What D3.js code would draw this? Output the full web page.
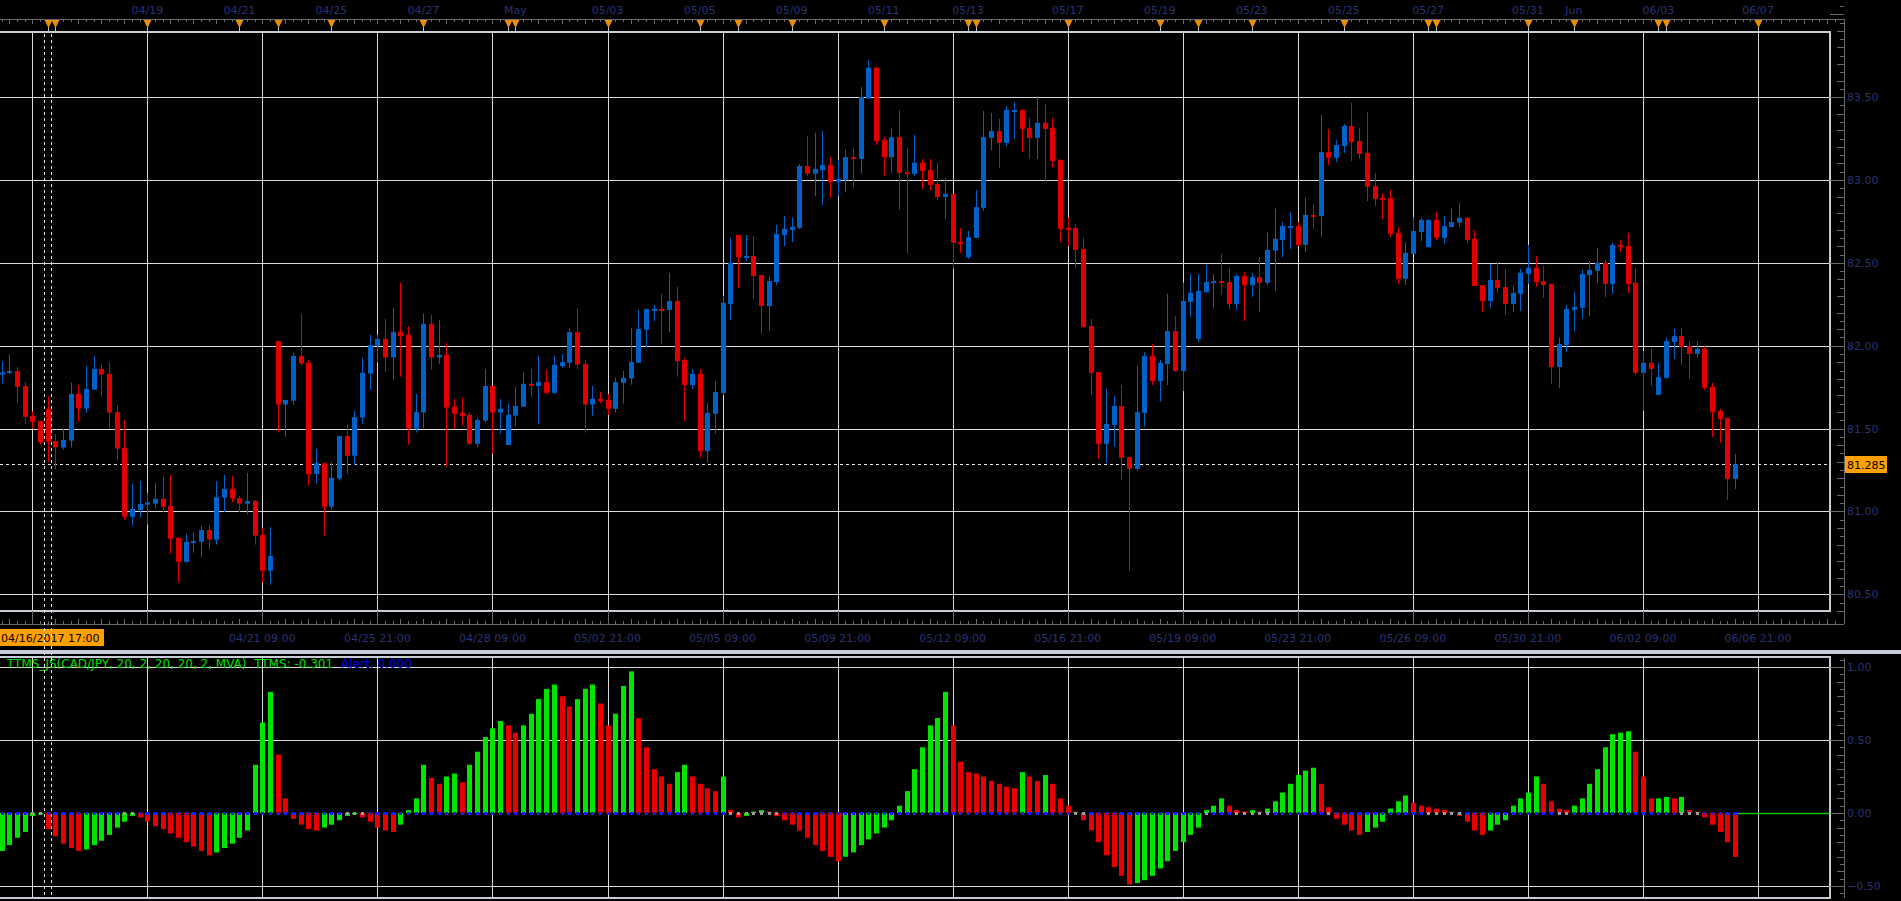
<!DOCTYPE html>
<html>
<head>
<meta charset="utf-8">
<script src="https://cdn.jsdelivr.net/npm/d3@7"></script>
<style>
html, body { margin: 0; padding: 0; background: #000; overflow: hidden; }
</style>
</head>
<body>
<script>
// CAD/JPY 4 hour candles, 04/16/2017 17:00 .. 06/06/2017
const opens = [81.830,81.836,81.847,81.757,81.576,81.545,81.619,81.425,81.386,81.427,
81.709,81.621,81.735,81.860,81.830,81.599,81.384,80.968,81.009,81.041,
81.047,81.076,81.032,80.841,80.696,80.813,80.817,80.888,80.830,81.084,
81.136,81.080,81.047,81.063,80.858,80.642,82.028,81.645,81.668,81.938,
81.897,81.226,81.291,81.028,81.198,81.455,81.336,81.567,81.832,82.000,
82.041,81.929,82.082,82.065,81.500,81.597,82.132,81.929,81.944,81.632,
81.595,81.582,81.408,81.548,81.757,81.597,81.401,81.578,81.632,81.770,
81.757,81.780,81.716,81.877,81.897,82.082,81.890,81.645,81.679,81.673,
81.619,81.776,81.802,81.897,82.097,82.216,82.222,82.216,82.270,81.914,
81.763,81.830,81.364,81.589,81.714,82.252,82.668,82.534,82.541,82.427,
82.239,82.384,82.668,82.698,82.711,83.084,83.037,83.060,83.090,82.989,
83.002,83.138,83.127,83.491,83.677,83.242,83.138,83.259,83.047,83.037,
83.104,83.060,82.976,82.897,82.916,82.625,82.534,82.651,82.832,83.254,
83.295,83.224,83.416,83.422,83.315,83.254,83.345,83.315,83.121,82.711,
82.711,82.584,82.119,81.841,81.408,81.522,81.636,81.328,81.257,81.595,
81.938,81.787,81.890,82.088,81.847,82.265,82.041,82.323,82.379,82.390,
82.384,82.252,82.420,82.366,82.414,82.379,82.573,82.638,82.716,82.722,
82.608,82.789,82.782,83.168,83.134,83.205,83.326,83.235,83.164,82.963,
82.892,82.892,82.681,82.403,82.554,82.686,82.595,82.759,82.651,82.716,
82.742,82.772,82.645,82.366,82.270,82.397,82.354,82.252,82.313,82.433,
82.470,82.390,82.373,81.871,82.004,82.216,82.229,82.427,82.451,82.500,
82.373,82.608,82.601,82.380,81.836,81.897,81.703,81.806,82.022,82.058,
81.998,81.951,81.981,81.752,81.606,81.565,81.196];

const highs = [81.905,81.948,81.871,81.780,81.604,81.545,81.696,81.468,81.500,81.776,
81.763,81.877,81.940,81.890,81.901,81.642,81.552,81.166,81.183,81.112,
81.173,81.216,81.222,80.841,80.864,80.875,80.912,80.918,81.183,81.220,
81.214,81.093,81.233,81.069,80.899,80.905,82.028,81.673,81.959,82.192,
81.914,81.377,81.291,81.297,81.455,81.528,81.606,81.927,82.065,82.065,
82.162,82.229,82.380,82.119,81.709,82.192,82.186,82.155,82.017,81.679,
81.686,81.597,81.567,81.860,81.757,81.679,81.651,81.752,81.841,81.860,
81.940,81.856,81.940,81.951,82.101,82.229,81.912,81.757,81.720,81.709,
81.806,81.847,82.108,82.216,82.222,82.246,82.313,82.440,82.354,81.927,
81.860,81.860,81.655,81.787,82.300,82.651,82.668,82.668,82.662,82.427,
82.420,82.729,82.782,82.772,83.097,83.265,83.285,83.295,83.140,83.121,
83.181,83.194,83.560,83.724,83.683,83.259,83.308,83.422,83.194,83.272,
83.127,83.127,83.104,83.013,82.916,82.709,82.692,82.940,83.416,83.405,
83.369,83.446,83.470,83.429,83.375,83.507,83.459,83.375,83.127,82.776,
82.735,82.651,82.162,81.841,81.739,81.696,81.763,81.328,81.877,81.961,
82.011,81.914,82.313,82.179,82.380,82.433,82.433,82.487,82.433,82.554,
82.470,82.433,82.444,82.440,82.535,82.681,82.826,82.746,82.806,82.746,
82.892,82.856,83.392,83.308,83.241,83.338,83.466,83.315,83.410,83.043,
82.922,82.940,82.716,82.625,82.776,82.772,82.765,82.806,82.782,82.826,
82.862,82.776,82.698,82.366,82.494,82.500,82.464,82.360,82.464,82.608,
82.541,82.481,82.373,82.048,82.246,82.323,82.457,82.511,82.590,82.517,
82.621,82.638,82.681,82.470,81.968,81.981,81.897,82.048,82.101,82.108,
82.028,82.028,81.998,81.776,81.619,81.565,81.347];

const lows = [81.772,81.830,81.657,81.528,81.500,81.405,81.297,81.252,81.373,81.386,
81.541,81.595,81.735,81.692,81.502,81.310,80.946,80.914,80.963,80.920,
81.017,80.996,80.746,80.571,80.690,80.752,80.724,80.770,80.800,80.996,
81.054,80.996,80.983,80.800,80.571,80.558,81.476,81.451,81.645,81.880,
81.155,81.168,80.854,81.011,81.186,81.226,81.280,81.528,81.733,81.899,
81.841,81.793,81.813,81.403,81.476,81.502,81.856,81.892,81.270,81.498,
81.517,81.401,81.390,81.537,81.349,81.470,81.401,81.515,81.632,81.690,
81.524,81.705,81.711,81.867,81.867,81.860,81.476,81.578,81.651,81.582,
81.597,81.651,81.765,81.897,81.991,82.149,82.007,82.082,81.813,81.545,
81.739,81.323,81.297,81.468,81.703,82.155,82.349,82.511,82.282,82.071,
82.088,82.366,82.601,82.625,82.705,83.024,82.903,82.849,82.892,82.903,
82.927,82.955,83.037,83.491,83.211,83.024,83.043,82.819,82.554,83.024,
82.946,82.940,82.879,82.765,82.464,82.560,82.524,82.651,82.813,83.181,
83.073,83.205,83.248,83.168,83.127,83.127,82.994,83.073,82.625,82.601,
82.470,82.108,81.703,81.317,81.293,81.390,81.192,80.642,81.246,81.511,
81.763,81.662,81.763,81.841,81.726,82.172,82.022,82.319,82.229,82.306,
82.222,82.216,82.149,82.293,82.203,82.366,82.330,82.535,82.584,82.601,
82.565,82.705,82.655,83.091,83.108,83.164,83.114,83.127,82.873,82.843,
82.765,82.655,82.373,82.366,82.554,82.632,82.595,82.638,82.614,82.716,
82.716,82.621,82.360,82.203,82.229,82.319,82.186,82.203,82.209,82.373,
82.354,82.289,81.770,81.746,81.961,82.088,82.162,82.179,82.380,82.293,
82.313,82.565,82.319,81.823,81.606,81.757,81.703,81.800,81.920,81.884,
81.800,81.927,81.733,81.448,81.414,81.069,81.136];

const closes = [81.838,81.847,81.752,81.571,81.541,81.416,81.420,81.386,81.431,81.709,
81.621,81.739,81.860,81.826,81.597,81.379,80.968,81.015,81.045,81.054,
81.076,81.028,80.836,80.696,80.815,80.821,80.888,80.830,81.086,81.136,
81.078,81.047,81.063,80.854,80.642,80.731,81.645,81.673,81.938,81.892,
81.226,81.291,81.028,81.203,81.455,81.336,81.569,81.836,82.004,82.041,
81.929,82.082,82.058,81.500,81.599,82.132,81.929,81.944,81.627,81.589,
81.576,81.408,81.552,81.757,81.597,81.619,81.582,81.636,81.770,81.757,
81.780,81.716,81.884,81.901,82.082,81.886,81.645,81.679,81.666,81.619,
81.780,81.806,81.901,82.101,82.222,82.222,82.216,82.270,81.907,81.763,
81.830,81.364,81.595,81.720,82.259,82.500,82.534,82.541,82.420,82.239,
82.390,82.675,82.705,82.716,83.084,83.037,83.067,83.090,82.987,83.006,
83.138,83.127,83.500,83.677,83.235,83.138,83.259,83.043,83.037,83.104,
83.054,82.970,82.897,82.916,82.621,82.614,82.655,82.836,83.259,83.295,
83.224,83.422,83.422,83.308,83.254,83.345,83.308,83.114,82.705,82.705,
82.578,82.112,81.836,81.408,81.528,81.636,81.323,81.257,81.599,81.938,
81.787,81.897,82.088,81.847,82.270,82.319,82.330,82.384,82.390,82.379,
82.252,82.420,82.366,82.414,82.379,82.578,82.645,82.722,82.722,82.608,
82.789,82.782,83.168,83.134,83.211,83.326,83.228,83.157,82.959,82.886,
82.886,82.675,82.403,82.560,82.692,82.759,82.759,82.651,82.722,82.746,
82.772,82.638,82.360,82.270,82.397,82.349,82.252,82.319,82.440,82.470,
82.384,82.366,81.871,82.011,82.222,82.233,82.433,82.457,82.500,82.373,
82.608,82.595,82.373,81.836,81.897,81.860,81.810,82.028,82.058,81.991,
81.951,81.981,81.746,81.599,81.558,81.196,81.285];

// TTMS histogram value per candle
const ttms = [-0.26,-0.22,-0.17,-0.13,-0.02,-0.01,-0.11,-0.16,-0.21,-0.24,
-0.26,-0.25,-0.22,-0.19,-0.15,-0.10,-0.06,-0.02,-0.03,-0.06,
-0.09,-0.11,-0.14,-0.17,-0.20,-0.23,-0.26,-0.29,-0.27,-0.24,
-0.21,-0.17,-0.12,0.33,0.62,0.83,0.40,0.10,-0.04,-0.08,
-0.11,-0.12,-0.10,-0.08,-0.05,-0.02,-0.01,-0.03,-0.06,-0.10,
-0.12,-0.13,-0.08,0.02,0.10,0.33,0.24,0.20,0.25,0.27,
0.21,0.33,0.42,0.52,0.58,0.63,0.60,0.55,0.60,0.68,
0.78,0.85,0.88,0.80,0.73,0.78,0.85,0.88,0.75,0.60,
0.68,0.87,0.97,0.65,0.45,0.30,0.25,0.20,0.28,0.33,
0.25,0.20,0.17,0.15,0.25,0.02,-0.03,-0.02,0.01,0.02,
0.01,-0.02,-0.05,-0.08,-0.12,-0.17,-0.22,-0.26,-0.30,-0.33,
-0.30,-0.27,-0.22,-0.18,-0.14,-0.10,-0.05,0.05,0.15,0.30,
0.45,0.60,0.65,0.83,0.60,0.35,0.28,0.27,0.25,0.22,
0.20,0.18,0.17,0.28,0.25,0.22,0.26,0.20,0.10,0.05,
0.01,-0.05,-0.12,-0.20,-0.29,-0.37,-0.43,-0.49,-0.48,-0.46,
-0.43,-0.38,-0.33,-0.26,-0.20,-0.15,-0.10,0.02,0.05,0.10,
0.05,0.02,0.01,0.02,0.01,0.03,0.08,0.14,0.20,0.26,
0.29,0.31,0.20,0.04,-0.04,-0.08,-0.12,-0.15,-0.13,-0.10,
-0.06,0.03,0.08,0.12,0.07,0.05,0.04,0.03,0.02,0.01,
-0.02,-0.06,-0.12,-0.15,-0.12,-0.08,-0.05,0.05,0.10,0.14,
0.25,0.20,0.08,0.03,0.02,0.05,0.10,0.20,0.30,0.45,
0.54,0.55,0.56,0.42,0.25,0.10,0.10,0.11,0.10,0.11,
0.02,0.01,-0.03,-0.08,-0.13,-0.20,-0.301];

// candles where the squeeze dot on the zero line is grey
const squeezeOn = [4,5,16,17,45,46,47,95,96,97,98,99,100,101,140,141,157,161,162,163,164,165,
173,186,187,188,189,190,203,204,219,220,221];

const topLabels = ["04/19","04/21","04/25","04/27","May","05/03","05/05","05/09","05/11","05/13",
"05/17","05/19","05/23","05/25","05/27","05/31","Jun","06/03","06/07"];
const topLabelIdx = [19,31,43,55,67,79,91,103,115,126,139,151,163,175,186,199,205,216,229];
const markerIdx = [6,7,19,31,36,43,55,66,67,79,91,96,103,115,126,127,139,151,156,163,175,186,187,199,205,216,217,229];

const bottomLabels = ["04/21 09:00","04/25 21:00","04/28 09:00","05/02 21:00","05/05 09:00","05/09 21:00",
"05/12 09:00","05/16 21:00","05/19 09:00","05/23 21:00","05/26 09:00","05/30 21:00","06/02 09:00","06/06 21:00"];
const gridIdx = [4,19,34,49,64,79,94,109,124,139,154,169,184,199,214,229];
const bottomLabelIdx = gridIdx.slice(2);

const priceTicks = [80.5,81.0,81.5,82.0,82.5,83.0,83.5];
const ttmsTicks = [-0.5,0,0.5,1.0];
const lastPrice = 81.285;
const cursorIdx = [5.5, 6.5];
const cursorLabel = "04/16/2017 17:00";
const studyTitle = "TTMS_JS(CAD/JPY, 20, 2, 20, 20, 2, MVA)  TTMS: -0.301";
const alertTitle = "Alert: 0.000";

// layout
const W = 1901, H = 901;
const mainTop = 32, mainBottom = 611, panelRight = 1830, axisX = 1844;
const topBase = 19, dateBase = 624;
const sepY = 650, indTop = 657, indBottom = 898;

const labelColor = "#2b3373";
const gridColor = "#dadada";
const borderColor = "#c8ccd4";
const upColor = "#0062c8", downColor = "#e00000";
const font = "11px 'DejaVu Sans', Verdana, sans-serif";
const crisp = v => Math.round(v) + 0.5;

const svg = d3.select("body").append("svg")
    .attr("width", W).attr("height", H)
    .style("background", "#000");

const x = d3.scaleLinear().domain([0, 229]).range([1.6, 1758]);
const yP = d3.scaleLinear().domain([80.5, 83.5]).range([594.3, 97.1]);
const yT = d3.scaleLinear().domain([-0.5, 1.0]).range([886, 667]);

const idx = d3.range(closes.length);

// ---------- top time axis ----------
const topAx = svg.append("g");
topAx.append("line").attr("x1", 0).attr("x2", axisX).attr("y1", crisp(topBase)).attr("y2", crisp(topBase))
    .attr("stroke", "#6a6a6a");
topAx.selectAll(".tt").data(d3.range(0, 240)).enter().append("line")
    .attr("x1", d => crisp(x(d))).attr("x2", d => crisp(x(d)))
    .attr("y1", topBase).attr("y2", d => topBase + (d % 3 === 1 ? 5 : 3))
    .attr("stroke", "#6a6a6a");
topAx.selectAll(".tl").data(topLabels).enter().append("text")
    .attr("x", (d, i) => x(topLabelIdx[i])).attr("y", 14)
    .attr("text-anchor", "middle").attr("fill", labelColor).style("font", font)
    .text(d => d);
// event markers
const mk = topAx.selectAll(".mk").data(markerIdx).enter().append("g")
    .attr("transform", d => `translate(${Math.round(x(d)) + 0.5},0)`);
mk.append("line").attr("x1", 0).attr("x2", 0).attr("y1", 27).attr("y2", mainTop)
    .attr("stroke", "#c0c4cc");
mk.append("path").attr("d", "M-4,20L4,20L0,28Z").attr("fill", "#e8900c");

// ---------- main price panel ----------
const main = svg.append("g");
main.selectAll(".hg").data(priceTicks).enter().append("line")
    .attr("x1", 0).attr("x2", panelRight).attr("y1", d => crisp(yP(d))).attr("y2", d => crisp(yP(d)))
    .attr("stroke", gridColor);
main.selectAll(".vg").data(gridIdx).enter().append("line")
    .attr("x1", d => crisp(x(d))).attr("x2", d => crisp(x(d))).attr("y1", mainTop).attr("y2", mainBottom)
    .attr("stroke", gridColor);
main.append("line").attr("x1", 0).attr("x2", panelRight)
    .attr("y1", crisp(yP(lastPrice))).attr("y2", crisp(yP(lastPrice)))
    .attr("stroke", "#e8e8e8").attr("stroke-dasharray", "3,3");

// candles
const cg = main.selectAll(".cd").data(idx).enter().append("g");
cg.append("line")
    .attr("x1", i => crisp(x(i))).attr("x2", i => crisp(x(i)))
    .attr("y1", i => yP(highs[i])).attr("y2", i => yP(lows[i]))
    .attr("stroke", i => closes[i] >= opens[i] ? upColor : downColor);
cg.append("rect")
    .attr("x", i => Math.round(x(i)) - 2).attr("width", 5)
    .attr("y", i => yP(Math.max(opens[i], closes[i])))
    .attr("height", i => Math.max(2, Math.abs(yP(opens[i]) - yP(closes[i]))))
    .attr("fill", i => closes[i] >= opens[i] ? upColor : downColor);

main.append("rect").attr("x", -2).attr("y", mainTop).attr("width", panelRight + 2).attr("height", mainBottom - mainTop)
    .attr("fill", "none").attr("stroke", borderColor).attr("stroke-width", 2);

// right price axis
const minor = d3.range(Math.ceil(yP.invert(mainBottom) * 20), Math.floor(yP.invert(0) * 20) + 1).map(k => k / 20);
const pAx = svg.append("g");
pAx.append("line").attr("x1", crisp(axisX)).attr("x2", crisp(axisX)).attr("y1", topBase).attr("y2", dateBase)
    .attr("stroke", "#6a6a6a");
pAx.selectAll(".pt").data(minor).enter().append("line")
    .attr("x1", d => axisX - (Math.round(d * 20) % 10 === 0 ? 14 : (Math.round(d * 20) % 2 === 0 ? 7 : 4)))
    .attr("x2", axisX).attr("y1", d => crisp(yP(d))).attr("y2", d => crisp(yP(d)))
    .attr("stroke", "#6a6a6a");
const pLab = svg.append("g").attr("transform", `translate(${axisX},0)`)
    .call(d3.axisRight(yP).tickValues(priceTicks).tickSize(0).tickPadding(3).tickFormat(d3.format(".2f")));
pLab.select(".domain").remove();
pLab.selectAll("text").attr("fill", labelColor).style("font", font);

// last price tag
const lp = svg.append("g").attr("transform", `translate(${axisX + 1},${Math.round(yP(lastPrice))})`);
lp.append("rect").attr("x", 0).attr("y", -8).attr("width", 42).attr("height", 17).attr("fill", "#ffa000");
lp.append("text").attr("x", 2).attr("y", 4.5).attr("fill", "#000").style("font", font).text(d3.format(".3f")(lastPrice));

// ---------- bottom date axis ----------
const dAx = svg.append("g");
dAx.append("line").attr("x1", 0).attr("x2", axisX).attr("y1", crisp(dateBase)).attr("y2", crisp(dateBase))
    .attr("stroke", "#6a6a6a");
dAx.selectAll(".dt").data(d3.range(0, 240)).enter().append("line")
    .attr("x1", d => crisp(x(d))).attr("x2", d => crisp(x(d)))
    .attr("y1", d => (d - 4) % 15 === 0 ? mainBottom : dateBase - (d % 3 === 1 ? 5 : 3)).attr("y2", dateBase)
    .attr("stroke", "#6a6a6a");
dAx.selectAll(".dl").data(bottomLabels).enter().append("text")
    .attr("x", (d, i) => x(bottomLabelIdx[i])).attr("y", 642)
    .attr("text-anchor", "middle").attr("fill", labelColor).style("font", font)
    .text(d => d);
const cl = dAx.append("g").attr("transform", "translate(0,629)");
cl.append("rect").attr("x", 0).attr("y", 0).attr("width", 104).attr("height", 17).attr("fill", "#ffa000");
cl.append("text").attr("x", 1).attr("y", 12.5).attr("fill", "#000").style("font", font).text(cursorLabel);

// separator
svg.append("rect").attr("x", 0).attr("y", sepY).attr("width", W).attr("height", 4).attr("fill", "#c8ccd8");

// ---------- TTMS panel ----------
const ind = svg.append("g");
ind.selectAll(".ihg").data(ttmsTicks.filter(d => d !== 0)).enter().append("line")
    .attr("x1", 0).attr("x2", panelRight).attr("y1", d => crisp(yT(d))).attr("y2", d => crisp(yT(d)))
    .attr("stroke", gridColor);
ind.selectAll(".ivg").data(gridIdx).enter().append("line")
    .attr("x1", d => crisp(x(d))).attr("x2", d => crisp(x(d))).attr("y1", indTop).attr("y2", indBottom)
    .attr("stroke", gridColor);
ind.append("line").attr("x1", x(idx.length - 1)).attr("x2", panelRight)
    .attr("y1", crisp(yT(0))).attr("y2", crisp(yT(0))).attr("stroke", "#00c000").attr("stroke-width", 1.5);

ind.selectAll(".bar").data(idx).enter().append("rect")
    .attr("x", i => Math.round(x(i)) - 2).attr("width", 5)
    .attr("y", i => Math.min(yT(0), yT(ttms[i])))
    .attr("height", i => Math.abs(yT(ttms[i]) - yT(0)))
    .attr("fill", i => (i === 0 || ttms[i] >= ttms[i - 1]) ? "#00e400" : "#e80000");

ind.selectAll(".dot").data(idx).enter().append("rect")
    .attr("x", i => Math.round(x(i)) - 1).attr("y", Math.round(yT(0)) - 1)
    .attr("width", 3).attr("height", 3)
    .attr("fill", i => squeezeOn.includes(i) ? "#9a9a9a" : "#1a1aff");

// dashed cursor lines
svg.selectAll(".cur").data(cursorIdx).enter().append("line")
    .attr("x1", d => crisp(x(d))).attr("x2", d => crisp(x(d)))
    .attr("y1", mainTop + 2).attr("y2", indBottom)
    .attr("stroke", "#e8e8e8").attr("stroke-dasharray", "3,3");

ind.append("rect").attr("x", -2).attr("y", indTop).attr("width", panelRight + 2).attr("height", indBottom - indTop)
    .attr("fill", "none").attr("stroke", borderColor).attr("stroke-width", 2);

const ttl = ind.append("text").attr("x", 7).attr("y", 668)
    .style("font", "12px 'DejaVu Sans', Verdana, sans-serif").style("white-space", "pre");
ttl.append("tspan").attr("fill", "#00e000").text(studyTitle);
ttl.append("tspan").attr("fill", "#0000e8").attr("dx", 8).text(alertTitle);

// TTMS right axis
const tMinor = d3.range(-11, 22).map(k => k / 20);
const tAx = svg.append("g");
tAx.append("line").attr("x1", crisp(axisX)).attr("x2", crisp(axisX)).attr("y1", indTop + 1).attr("y2", indBottom)
    .attr("stroke", "#6a6a6a");
tAx.selectAll(".tt").data(tMinor).enter().append("line")
    .attr("x1", d => axisX - (Math.round(d * 20) % 10 === 0 ? 14 : (Math.round(d * 20) % 2 === 0 ? 7 : 4)))
    .attr("x2", axisX).attr("y1", d => crisp(yT(d))).attr("y2", d => crisp(yT(d)))
    .attr("stroke", "#6a6a6a");
const tLab = svg.append("g").attr("transform", `translate(${axisX},0)`)
    .call(d3.axisRight(yT).tickValues(ttmsTicks).tickSize(0).tickPadding(3).tickFormat(d3.format(".2f")));
tLab.select(".domain").remove();
tLab.selectAll("text").attr("fill", labelColor).style("font", font);
</script>
</body>
</html>
